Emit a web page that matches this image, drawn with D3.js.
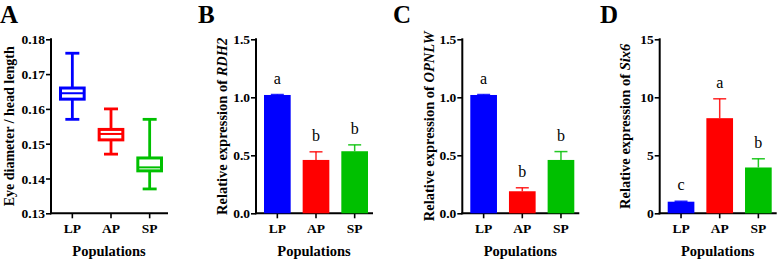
<!DOCTYPE html>
<html><head><meta charset="utf-8">
<script src="https://cdn.jsdelivr.net/npm/d3@7"></script>
<style>body{margin:0;background:#fff}svg{display:block}</style>
</head><body><svg id="c" width="780" height="261"></svg>
<script>
const categories = ["LP","AP","SP"];
const colors = ["#0000FF","#FF0000","#00C000"];
// Panel A box plot
const boxMin = [0.157,0.147,0.137];
const boxQ1  = [0.1628,0.1511,0.1422];
const boxMed = [0.1645,0.1528,0.1432];
const boxQ3  = [0.1660,0.1541,0.1459];
const boxMax = [0.176,0.160,0.157];
const ticksA = [0.13,0.14,0.15,0.16,0.17,0.18];
// Panel B
const rdh2Mean = [1.02,0.46,0.535];
const rdh2Err  = [0.004,0.07,0.055];
const rdh2Letters = ["a","b","b"];
// Panel C
const opnlwMean = [1.02,0.19,0.46];
const opnlwErr  = [0.004,0.03,0.072];
const opnlwLetters = ["a","b","b"];
// Panel D
const six6Mean = [1.0,8.2,3.95];
const six6Err  = [0.04,1.67,0.75];
const six6Letters = ["c","a","b"];
const ticksBC = [0,0.5,1.0,1.5];
const ticksD = [0,5,10,15];

const FONT = "'Liberation Serif', 'Times New Roman', 'DejaVu Serif', serif";
const svg = d3.select("#c").attr("font-family",FONT);
const yTop = 39.3, yBot = 213.3;

function makeAxes(axX, domain, ticks, fmt, titleParts, titleOff, titleSize, label, labelX){
  const g = svg.append("g");
  const y = d3.scaleLinear().domain(domain).range([yBot,yTop]);
  const x = d3.scaleBand().domain(categories).range([axX+8, axX+112]).paddingInner(0.31).paddingOuter(0);
  const ya = g.append("g").attr("transform",`translate(${axX},0)`)
    .call(d3.axisLeft(y).tickValues(ticks).tickFormat(fmt).tickSize(5).tickSizeOuter(0));
  ya.attr("font-family",FONT);
  ya.select(".domain").attr("stroke","#000").attr("stroke-width",2).attr("d",`M0,${yTop-1}V${yBot+1}`);
  ya.selectAll(".tick line").attr("stroke","#000").attr("stroke-width",1.6);
  ya.selectAll(".tick text").attr("font-family",FONT).attr("font-size",13.5).attr("font-weight","bold").attr("fill","#000").attr("x",-6).attr("dy","0.34em");
  const xa = g.append("g").attr("transform",`translate(0,${yBot})`)
    .call(d3.axisBottom(x).tickSize(5).tickSizeOuter(0));
  xa.attr("font-family",FONT);
  xa.select(".domain").attr("stroke","#000").attr("stroke-width",2).attr("d",`M${axX-1},0H${axX+117}`);
  xa.selectAll(".tick line").attr("stroke","#000").attr("stroke-width",1.6);
  xa.selectAll(".tick text").attr("font-family",FONT).attr("font-size",13.5).attr("font-weight","bold").attr("fill","#000").attr("y",10).attr("dy","0.71em");
  g.append("text").attr("font-family",FONT).attr("x",axX+58).attr("y",256).attr("text-anchor","middle")
    .attr("font-size",14.5).attr("font-weight","bold").text("Populations");
  const t = g.append("text").attr("font-family",FONT).attr("transform",`translate(${axX-titleOff},${(yTop+yBot)/2}) rotate(-90)`)
    .attr("text-anchor","middle").attr("dy","0.35em").attr("font-size",titleSize).attr("font-weight","bold");
  titleParts.forEach(p=>t.append("tspan").attr("font-style",p[1]?"italic":"normal").text(p[0]));
  g.append("text").attr("font-family",FONT).attr("x",labelX).attr("y",23).attr("font-size",25).attr("font-weight","bold").text(label);
  return {g,x,y};
}

// Panel A
{
  const {g,x,y} = makeAxes(51,[0.13,0.18],ticksA,d3.format(".2f"),[["Eye diameter / head length",false]],42,14,"A",0);
  categories.forEach((c,i)=>{
    const cx = x(c)+x.bandwidth()/2, col = colors[i];
    const bw = x.bandwidth()-3;
    g.append("line").attr("x1",cx).attr("x2",cx).attr("y1",y(boxMax[i])).attr("y2",y(boxQ3[i])).attr("stroke",col).attr("stroke-width",2.8);
    g.append("line").attr("x1",cx).attr("x2",cx).attr("y1",y(boxQ1[i])).attr("y2",y(boxMin[i])).attr("stroke",col).attr("stroke-width",2.8);
    [boxMax[i],boxMin[i]].forEach(v=>g.append("line").attr("x1",cx-7).attr("x2",cx+7).attr("y1",y(v)).attr("y2",y(v)).attr("stroke",col).attr("stroke-width",2.8));
    g.append("rect").attr("x",cx-bw/2).attr("width",bw).attr("y",y(boxQ3[i])).attr("height",y(boxQ1[i])-y(boxQ3[i]))
      .attr("fill","#fff").attr("stroke",col).attr("stroke-width",3);
    g.append("line").attr("x1",cx-bw/2).attr("x2",cx+bw/2).attr("y1",y(boxMed[i])).attr("y2",y(boxMed[i])).attr("stroke",col).attr("stroke-width",2);
  });
}

function barPanel(axX, domain, ticks, fmt, gene, off, label, labelX, means, errs, letters){
  const {g,x,y} = makeAxes(axX,domain,ticks,fmt,[["Relative expression of ",false],[gene,true]],off,14.5,label,labelX);
  categories.forEach((c,i)=>{
    const col = colors[i], cx = x(c)+x.bandwidth()/2;
    const top = means[i]+errs[i];
    g.append("line").attr("x1",cx).attr("x2",cx).attr("y1",y(means[i])).attr("y2",y(top)).attr("stroke",col).attr("stroke-width",1.5).attr("opacity",0.85);
    g.append("line").attr("x1",cx-6.5).attr("x2",cx+6.5).attr("y1",y(top)).attr("y2",y(top)).attr("stroke",col).attr("stroke-width",1.5).attr("opacity",0.85);
    g.append("rect").attr("x",x(c)).attr("width",x.bandwidth()).attr("y",y(means[i])).attr("height",yBot-y(means[i]))
      .attr("fill",col);
    g.append("text").attr("font-family",FONT).attr("x",cx).attr("y",y(top)-11).attr("text-anchor","middle").attr("font-size",16).text(letters[i]);
  });
}
barPanel(256,[0,1.5],ticksBC,d3.format(".1f"),"RDH2",34,"B",198,rdh2Mean,rdh2Err,rdh2Letters);
barPanel(462.3,[0,1.5],ticksBC,d3.format(".1f"),"OPNLW",33,"C",393,opnlwMean,opnlwErr,opnlwLetters);
barPanel(659.7,[0,15],ticksD,d3.format("d"),"Six6",35,"D",600,six6Mean,six6Err,six6Letters);
</script></body></html>
